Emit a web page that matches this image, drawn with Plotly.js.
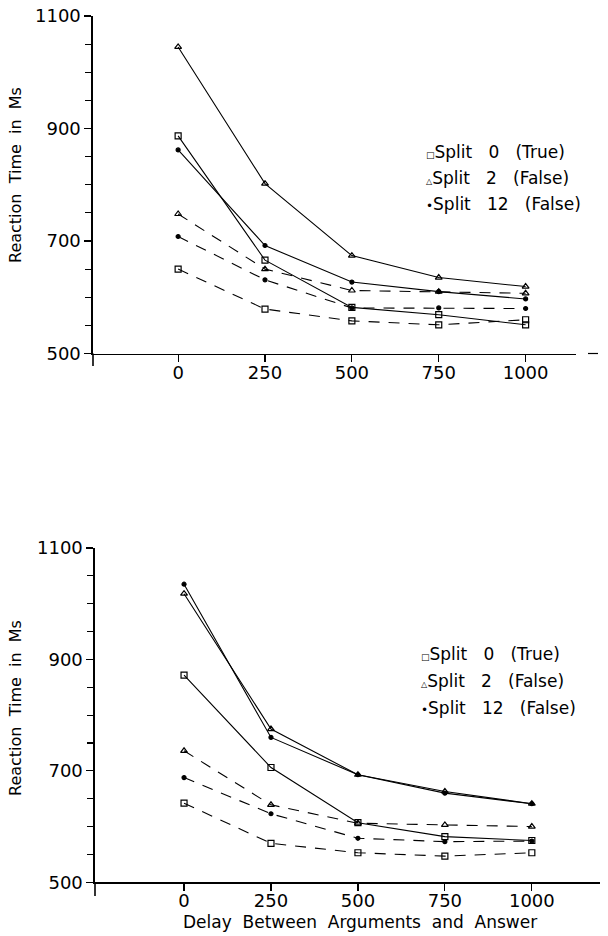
<!DOCTYPE html>
<html>
<head>
<meta charset="utf-8">
<script src="https://cdn.plot.ly/plotly-3.0.1.min.js"></script>
<style>html,body{margin:0;padding:0;background:#fff;}#chart{width:608px;height:936px;}</style>
</head>
<body>
<div id="chart"></div>
<script>
// ---- data ----
const delays = [0, 250, 500, 750, 1000];
const tickLabelsX = ['0', '250', '500', '750', '1000'];
const tickValsY = [500, 700, 900, 1100];
const seriesNames = ['Split 0 (True)', 'Split 2 (False)', 'Split 12 (False)'];
const legendLabels = ['Split   0   (True)', 'Split   2   (False)', 'Split   12   (False)'];
const yTitle = 'Reaction  Time  in  Ms';
const xTitle = 'Delay  Between  Arguments  and  Answer';

// top panel
const topSolidSplit0  = [887, 666, 582, 569, 551];
const topSolidSplit2  = [1045, 802, 674, 635, 619];
const topSolidSplit12 = [862, 692, 627, 610, 597];
const topDashSplit0   = [650, 579, 558, 551, 560];
const topDashSplit2   = [748, 650, 612, 610, 607];
const topDashSplit12  = [708, 631, 581, 581, 580];

// bottom panel
const botSolidSplit0  = [872, 706, 607, 582, 575];
const botSolidSplit2  = [1018, 775, 693, 663, 641];
const botSolidSplit12 = [1035, 760, 693, 660, 641];
const botDashSplit0   = [642, 570, 553, 547, 553];
const botDashSplit2   = [736, 639, 606, 603, 600];
const botDashSplit12  = [688, 623, 579, 573, 574];

// ---- styling ----
const W = 608, H = 936;
const px = x => x / W;
const py = y => (H - y) / H;
const FONT = 'DejaVu Sans, Liberation Sans, sans-serif';
const symbols = ['square-open', 'triangle-up-open', 'circle'];
const msize = [6, 6, 4];

function tr(y, idx, dashed, xa, ya) {
  return {
    x: delays, y: y, xaxis: xa, yaxis: ya, type: 'scatter', mode: 'lines+markers',
    name: seriesNames[idx] + (dashed ? ' dashed' : ' solid'), showlegend: false,
    line: {color: '#000', width: 1.1, dash: dashed ? '11px,9px' : 'solid'},
    marker: {symbol: symbols[idx], size: msize[idx], color: '#000', line: {color: '#000', width: 1.2}}
  };
}

const data = [
  tr(topSolidSplit0, 0, false, 'x', 'y'),
  tr(topSolidSplit2, 1, false, 'x', 'y'),
  tr(topSolidSplit12, 2, false, 'x', 'y'),
  tr(topDashSplit0, 0, true, 'x', 'y'),
  tr(topDashSplit2, 1, true, 'x', 'y'),
  tr(topDashSplit12, 2, true, 'x', 'y'),
  tr(botSolidSplit0, 0, false, 'x2', 'y2'),
  tr(botSolidSplit2, 1, false, 'x2', 'y2'),
  tr(botSolidSplit12, 2, false, 'x2', 'y2'),
  tr(botDashSplit0, 0, true, 'x2', 'y2'),
  tr(botDashSplit2, 1, true, 'x2', 'y2'),
  tr(botDashSplit12, 2, true, 'x2', 'y2')
];

function xax(domain, range, anchor) {
  return {
    domain: domain, range: range, anchor: anchor,
    tickmode: 'array', tickvals: delays, ticktext: tickLabelsX,
    ticks: 'outside', ticklen: 7, tickwidth: 1.2, tickcolor: '#000',
    ticklabelstandoff: -5,
    showline: true, linecolor: '#000', linewidth: 1.4,
    showgrid: false, zeroline: false,
    tickfont: {family: FONT, size: 18, color: '#000'}
  };
}
function yax(domain, anchor) {
  return {
    domain: domain, range: [500, 1100], anchor: anchor,
    tickmode: 'array', tickvals: tickValsY,
    ticks: 'outside', ticklen: 7, tickwidth: 1.2, tickcolor: '#000',
    minor: {dtick: 50, tick0: 500, ticks: 'outside', ticklen: 6, tickwidth: 1.1, tickcolor: '#000', showgrid: false},
    showline: true, linecolor: '#000', linewidth: 1.6,
    showgrid: false, zeroline: false,
    tickfont: {family: FONT, size: 18, color: '#000'}
  };
}

const legendAnn = [];
const glyphs = ['<span style="font-size:9px">□</span>', '<span style="font-size:8px">△</span>', '<span style="font-size:12px">•</span>'];
const topLegY = [152, 178, 204], botLegY = [654, 681, 708];
for (let i = 0; i < 3; i++) {
  legendAnn.push({xref: 'paper', yref: 'paper', x: px(424), y: py(topLegY[i]), xanchor: 'left', yanchor: 'middle',
    showarrow: false, text: glyphs[i] + legendLabels[i], font: {family: FONT, size: 17, color: '#000'}});
  legendAnn.push({xref: 'paper', yref: 'paper', x: px(419), y: py(botLegY[i]), xanchor: 'left', yanchor: 'middle',
    showarrow: false, text: glyphs[i] + legendLabels[i], font: {family: FONT, size: 17, color: '#000'}});
}

const layout = {
  width: W, height: H,
  margin: {l: 0, r: 0, t: 0, b: 0},
  paper_bgcolor: '#fff', plot_bgcolor: '#fff',
  showlegend: false,
  xaxis: xax([px(93), px(576)], [-245, 1145], 'y'),
  yaxis: yax([py(353.5), py(16)], 'x'),
  xaxis2: xax([px(95), px(600)], [-256, 1196], 'y2'),
  yaxis2: yax([py(882.3), py(548)], 'x2'),
  shapes: [
    {type: 'line', xref: 'paper', yref: 'paper', x0: px(93), x1: px(93), y0: py(353.5), y1: py(366), line: {color: '#000', width: 1.6}},
    {type: 'line', xref: 'paper', yref: 'paper', x0: px(588), x1: px(598), y0: py(353.5), y1: py(353.5), line: {color: '#000', width: 1.2}},
    {type: 'line', xref: 'paper', yref: 'paper', x0: px(95), x1: px(95), y0: py(882.3), y1: py(896), line: {color: '#000', width: 1.6}}
  ],
  annotations: [
    {xref: 'paper', yref: 'paper', x: px(15), y: py(175), xanchor: 'center', yanchor: 'middle', textangle: -90, showarrow: false,
     text: yTitle, font: {family: FONT, size: 16, color: '#000'}},
    {xref: 'paper', yref: 'paper', x: px(15), y: py(708), xanchor: 'center', yanchor: 'middle', textangle: -90, showarrow: false,
     text: yTitle, font: {family: FONT, size: 16, color: '#000'}},
    {xref: 'paper', yref: 'paper', x: px(360), y: py(922), xanchor: 'center', yanchor: 'middle', showarrow: false,
     text: xTitle, font: {family: FONT, size: 17, color: '#000'}}
  ].concat(legendAnn)
};

Plotly.newPlot('chart', data, layout, {displayModeBar: false, staticPlot: true});
</script>
</body>
</html>
